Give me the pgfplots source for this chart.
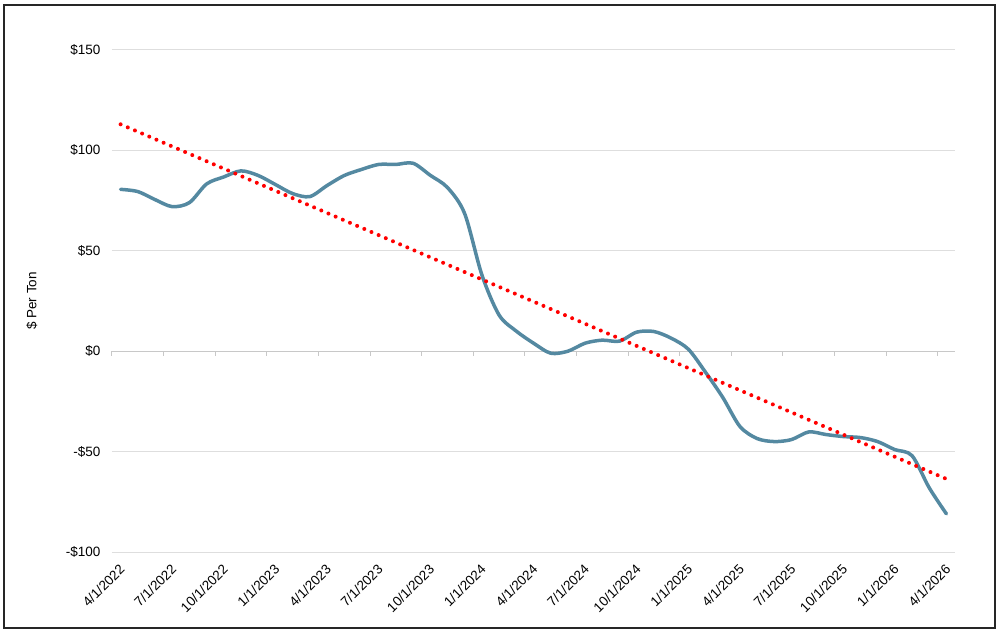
\documentclass[border=0pt]{standalone}
\usepackage{pgfplots}
\pgfplotsset{compat=1.18}
\usepackage{fontspec}
\setmainfont{Liberation Sans}
\definecolor{lineblue}{RGB}{84,137,161}
\definecolor{gridgray}{RGB}{222,222,222}
\definecolor{axisgray}{RGB}{200,200,200}

\begin{document}
\begin{tikzpicture}
\useasboundingbox (-112pt,-83pt) rectangle (888pt,552pt);
\draw[line width=1.5pt, black!85] (-108pt,-76pt) rectangle (883pt,547pt);
\begin{axis}[
  at={(0,0)}, anchor=south west,
  scale only axis,
  width=843pt, height=502pt,
  xmin=-0.5, xmax=48.5,
  ymin=-100, ymax=150,
  axis line style={draw=none},
  ytick={-100,-50,0,50,100,150},
  yticklabels={-\$100,-\$50,\$0,\$50,\$100,\$150},
  ytick style={draw=none},
  xtick={0,3,...,48},
  xticklabels={4/1/2022,7/1/2022,10/1/2022,1/1/2023,4/1/2023,7/1/2023,10/1/2023,1/1/2024,4/1/2024,7/1/2024,10/1/2024,1/1/2025,4/1/2025,7/1/2025,10/1/2025,1/1/2026,4/1/2026},
  xtick style={draw=none},
  ymajorgrids,
  grid style={gridgray, line width=1pt},
  tick label style={font=\fontsize{13.5}{15}\selectfont},
  yticklabel style={xshift=-8pt},
  xticklabel style={yshift=-10pt, xshift=-2pt, rotate=45, anchor=north east, inner sep=1pt},
  ylabel={\$ Per Ton},
  ylabel style={at={(axis description cs:-0.095,0.5)}, anchor=center, font=\fontsize{13.5}{15}\selectfont},
  clip=false,
]
% x axis at zero with small tick marks between categories
\draw[axisgray, line width=1pt] (axis cs:-0.5,0) -- (axis cs:48.5,0);
\pgfplotsinvokeforeach{0,...,16}{
  \draw[axisgray, line width=1pt] (axis cs:{-0.5+3*#1},0) -- ([yshift=-5pt]axis cs:{-0.5+3*#1},0);
}
\addplot[lineblue, line width=3.5pt, smooth, tension=0.5, line join=round, line cap=round] coordinates {
(0,80.6) (1,79.5) (2,75.5) (3,72) (4,74) (5,83.3) (6,86.8) (7,89.8) (8,87.5) (9,83)
(10,78.5) (11,77) (12,82.5) (13,87.5) (14,90.5) (15,93) (16,93) (17,93.6) (18,87.6) (19,81.5)
(20,68.5) (21,38) (22,18) (23,10) (24,4) (25,-1) (26,0) (27,4) (28,5.5) (29,5)
(30,9.5) (31,9.8) (32,6.5) (33,1) (34,-10.5) (35,-23) (36,-37.5) (37,-43.5) (38,-45) (39,-44)
(40,-40.2) (41,-41.5) (42,-42.5) (43,-43) (44,-45) (45,-49) (46,-52) (47,-68) (48,-81)
};
\addplot[red, line width=4pt, line cap=round, dash pattern=on 0pt off 7.8pt] coordinates {
(0,113) (48,-63.6)
};
\end{axis}
\end{tikzpicture}
\end{document}
